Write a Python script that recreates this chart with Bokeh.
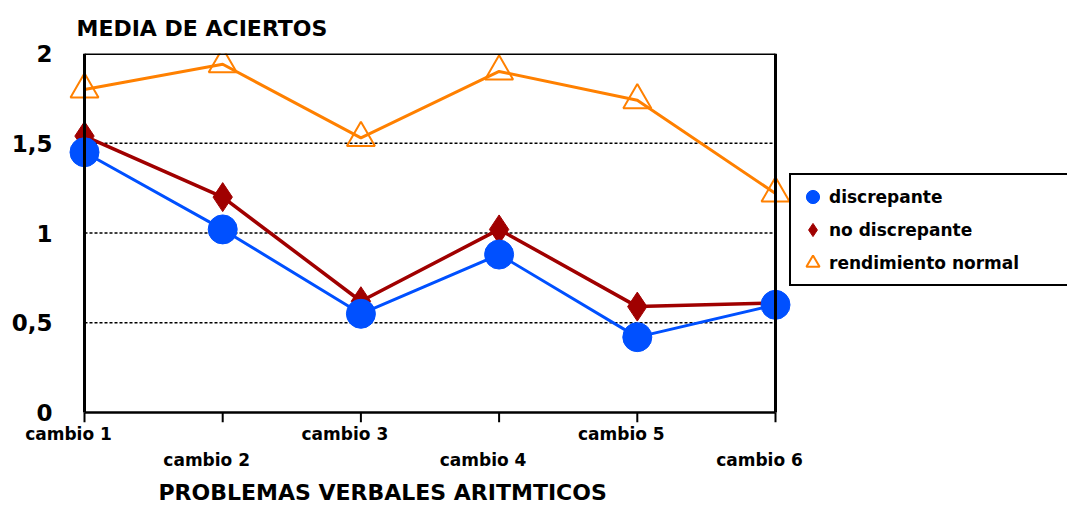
from bokeh.plotting import figure
from bokeh.models import Range1d, LinearAxis, FixedTicker, Legend, LegendItem, Title
from bokeh.embed import file_html
from bokeh.resources import INLINE

# Mean correct answers per "cambio" problem, by group
categories = ["cambio 1", "cambio 2", "cambio 3", "cambio 4", "cambio 5", "cambio 6"]
discrepante = [1.45, 1.02, 0.55, 0.88, 0.42, 0.60]
no_discrepante = [1.54, 1.20, 0.62, 1.02, 0.59, 0.61]
rendimiento_normal = [1.80, 1.94, 1.53, 1.90, 1.74, 1.22]
y_ticks = [0, 0.5, 1, 1.5, 2]
y_tick_labels = ["0", "0,5", "1", "1,5", "2"]

pos = list(range(1, len(categories) + 1))

FONT = "DejaVu Sans"
BLUE = "#0050FF"
RED = "#A00000"
ORANGE = "#FF8000"

W, H = 1067, 511
LEFT, TOP, BOTTOM = 66, 52, 422      # frame edges in pixels
PX = 138.2                           # pixels per category step
PY = 180.0                           # pixels per unit on the y axis
x0 = pos[0] - 18 / PX                # room so edge markers are not clipped
x1 = x0 + (W - LEFT) / PX            # frame runs to the right edge (legend lives there)
y0 = y_ticks[0] - 10 / PY            # room for the x tick marks
SHIFT = 16 / PX                      # tick labels sit a little left of their ticks

p = figure(width=W, height=H, output_backend="svg", toolbar_location=None,
           x_range=Range1d(x0, x1), y_range=Range1d(y0, y_ticks[-1]),
           x_axis_location=None, y_axis_location="left",
           min_border_left=LEFT, min_border_right=0, min_border_top=TOP,
           min_border_bottom=H - BOTTOM)
p.outline_line_color = None
p.grid.visible = False
p.background_fill_color = "white"
p.extra_x_ranges = {"lab": Range1d(x0 + SHIFT, x1 + SHIFT)}

# y axis: labels only
ya = p.yaxis[0]
ya.ticker = FixedTicker(ticks=y_ticks)
ya.major_label_overrides = dict(zip(y_ticks, y_tick_labels))
ya.axis_line_color = None
ya.major_tick_line_color = None
ya.minor_tick_line_color = None
ya.major_tick_out = 0
ya.major_label_standoff = 14
ya.major_label_text_font = FONT
ya.major_label_text_font_style = "bold"
ya.major_label_text_font_size = "23px"
ya.major_label_text_color = "black"

# x axis labels, staggered on two rows
def label_axis(ticks, standoff):
    return LinearAxis(x_range_name="lab", ticker=FixedTicker(ticks=ticks),
                      major_label_overrides={t: categories[t - 1] for t in ticks},
                      axis_line_color=None, major_tick_line_color=None,
                      major_tick_out=0, major_tick_in=0,
                      minor_tick_line_color=None, minor_tick_out=0, minor_tick_in=0,
                      major_label_standoff=standoff,
                      major_label_text_font=FONT, major_label_text_font_style="bold",
                      major_label_text_font_size="17px", major_label_text_color="black")

p.add_layout(label_axis(pos[0::2], 1), "below")
p.add_layout(label_axis(pos[1::2], 3), "below")

p.add_layout(Title(text="PROBLEMAS VERBALES ARITMTICOS", align="left", offset=92,
                   text_font=FONT, text_font_style="bold", text_font_size="22px",
                   text_color="black", standoff=10), "below")

p.title.text = "MEDIA DE ACIERTOS"
p.title.align = "left"
p.title.offset = 10
p.title.text_font = FONT
p.title.text_font_style = "bold"
p.title.text_font_size = "22px"
p.title.text_color = "black"
p.title.standoff = 26

# dotted gridlines between the axis and the right border
inner = y_ticks[1:-1]
p.segment(x0=[pos[0]] * len(inner), y0=inner, x1=[pos[-1]] * len(inner), y1=inner,
          line_color="black", line_width=1.4, line_dash="3 2")

# x tick marks below the axis
p.segment(x0=pos, y0=[y_ticks[0]] * len(pos), x1=pos, y1=[y0] * len(pos),
          line_color="black", line_width=2)

# series
p.line(pos, rendimiento_normal, line_color=ORANGE, line_width=3)
tri = p.scatter(pos, rendimiento_normal, marker="triangle", size=28,
                line_color=ORANGE, line_width=2, fill_alpha=0)
p.line(pos, no_discrepante, line_color=RED, line_width=3.5)
dia = p.scatter(pos, no_discrepante, marker="diamond", size=29,
                line_color=RED, fill_color=RED)
p.line(pos, discrepante, line_color=BLUE, line_width=3)
cir = p.scatter(pos, discrepante, marker="circle", size=29,
                line_color=BLUE, fill_color=BLUE)

# plot box: axis on the left, border on top and right, axis on the bottom
p.segment(x0=[pos[0], pos[-1], pos[0]], y0=[y_ticks[0], y_ticks[0], y_ticks[-1]],
          x1=[pos[0], pos[-1], pos[-1]], y1=[y_ticks[-1], y_ticks[-1], y_ticks[-1]],
          line_color="black", line_width=3)
p.segment(x0=[pos[0]], y0=[y_ticks[0]], x1=[pos[-1]], y1=[y_ticks[0]],
          line_color="black", line_width=2.5)

legend = Legend(items=[LegendItem(label="discrepante", renderers=[cir]),
                       LegendItem(label="no discrepante", renderers=[dia]),
                       LegendItem(label="rendimiento normal", renderers=[tri])],
                location=(789 - LEFT, BOTTOM - 286), glyph_width=33, glyph_height=33,
                spacing=0, padding=5, label_standoff=0, label_width=300,
                margin=0, border_line_color="black", border_line_width=2,
                border_line_alpha=1,
                background_fill_color="white", background_fill_alpha=1,
                label_text_font=FONT, label_text_font_style="bold",
                label_text_font_size="17px", label_text_color="black")
p.add_layout(legend)

open("out.html", "w").write(file_html(p, INLINE))
